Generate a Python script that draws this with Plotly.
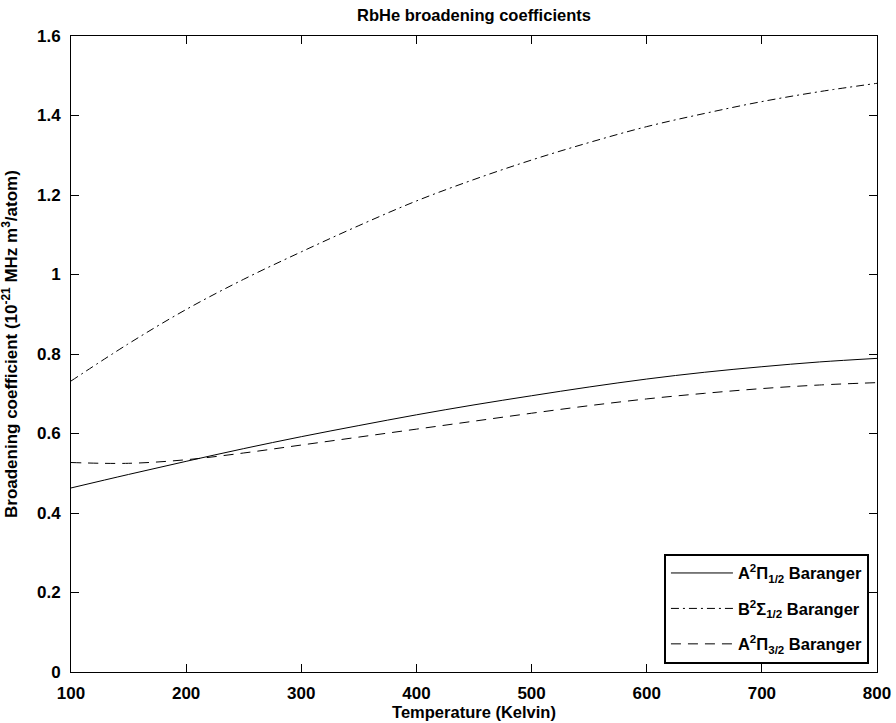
import plotly.graph_objects as go

temperature = [100, 150, 200, 250, 300, 350, 400, 450, 500, 550, 600, 650, 700, 750, 800]
a_pi_12 = [0.463, 0.497, 0.530, 0.562, 0.592, 0.620, 0.647, 0.672, 0.695, 0.717, 0.737, 0.754, 0.768, 0.780, 0.789]
b_sigma_12 = [0.732, 0.826, 0.912, 0.988, 1.057, 1.123, 1.185, 1.239, 1.288, 1.332, 1.372, 1.405, 1.435, 1.460, 1.481]
a_pi_32 = [0.527, 0.525, 0.534, 0.551, 0.571, 0.591, 0.611, 0.631, 0.651, 0.670, 0.687, 0.701, 0.713, 0.722, 0.728]

names = ["A<sup>2</sup>Π<sub>1/2</sub> Baranger",
         "B<sup>2</sup>Σ<sub>1/2</sub> Baranger",
         "A<sup>2</sup>Π<sub>3/2</sub> Baranger"]
x_ticks = [100, 200, 300, 400, 500, 600, 700, 800]
y_ticks = [0, 0.2, 0.4, 0.6, 0.8, 1.0, 1.2, 1.4, 1.6]
y_tick_text = ["0", "0.2", "0.4", "0.6", "0.8", "1", "1.2", "1.4", "1.6"]
y_title = "<b>Broadening coefficient (10<sup>-21</sup> MHz m<sup>3</sup>/atom)</b>"

FONT = "Liberation Sans, Arial, sans-serif"

fig = go.Figure()
fig.add_trace(go.Scatter(x=temperature, y=a_pi_12, mode="lines", name=names[0], legendgroup="g1",
                         line=dict(color="black", width=1, shape="spline", dash="solid")))
fig.add_trace(go.Scatter(x=temperature, y=b_sigma_12, mode="lines", name=names[1], legendgroup="g2",
                         line=dict(color="black", width=1, shape="spline", dash="8px,4px,2px,4px")))
fig.add_trace(go.Scatter(x=temperature, y=a_pi_32, mode="lines", name=names[2], legendgroup="g3",
                         line=dict(color="black", width=1, shape="spline", dash="10px,7px")))

axis_common = dict(showgrid=False, zeroline=False, showline=True, linecolor="black", linewidth=1,
                   mirror="ticks", ticks="inside", ticklen=8, tickcolor="black", tickwidth=1,
                   tickfont=dict(family=FONT, size=17, color="black", weight="bold"))

fig.update_layout(
    width=896, height=723,
    margin=dict(l=71, r=19, t=36, b=51, autoexpand=False),
    paper_bgcolor="white", plot_bgcolor="white",
    font=dict(family=FONT, color="black"),
    title=dict(text="<b>RbHe broadening coefficients</b>", x=0.5, xref="paper", xanchor="center",
               y=1 - 15 / 723, yanchor="middle",
               font=dict(family=FONT, size=16.5, color="black")),
    xaxis=dict(range=[100, 800], tickvals=x_ticks, ticklabelstandoff=6,
               title=dict(text="<b>Temperature (Kelvin)</b>", standoff=1,
                          font=dict(family=FONT, size=16.5, color="black")),
               **axis_common),
    yaxis=dict(range=[0, 1.6], tickvals=y_ticks, ticktext=y_tick_text, ticklabelstandoff=6,
               **axis_common),
    annotations=[dict(text=y_title, xref="paper", yref="paper", x=0, y=0.5,
                      xanchor="center", yanchor="middle", xshift=-61, yshift=10, textangle=-90,
                      showarrow=False, font=dict(family=FONT, size=17, color="black"))],
    showlegend=True,
    legend=dict(x=0.99, y=0.013, xanchor="right", yanchor="bottom",
                bgcolor="white", bordercolor="black", borderwidth=2,
                font=dict(family=FONT, size=16.5, color="black", weight="bold"),
                itemwidth=62, tracegroupgap=11, traceorder="grouped"),
)

fig.write_html("out.html", config={"displayModeBar": False})
with open("out.html", encoding="utf-8") as f:
    html = f.read()
html = html.replace("<head>", "<head><style>html,body{margin:0;padding:0;overflow:hidden;}</style>", 1)
with open("out.html", "w", encoding="utf-8") as f:
    f.write(html)
